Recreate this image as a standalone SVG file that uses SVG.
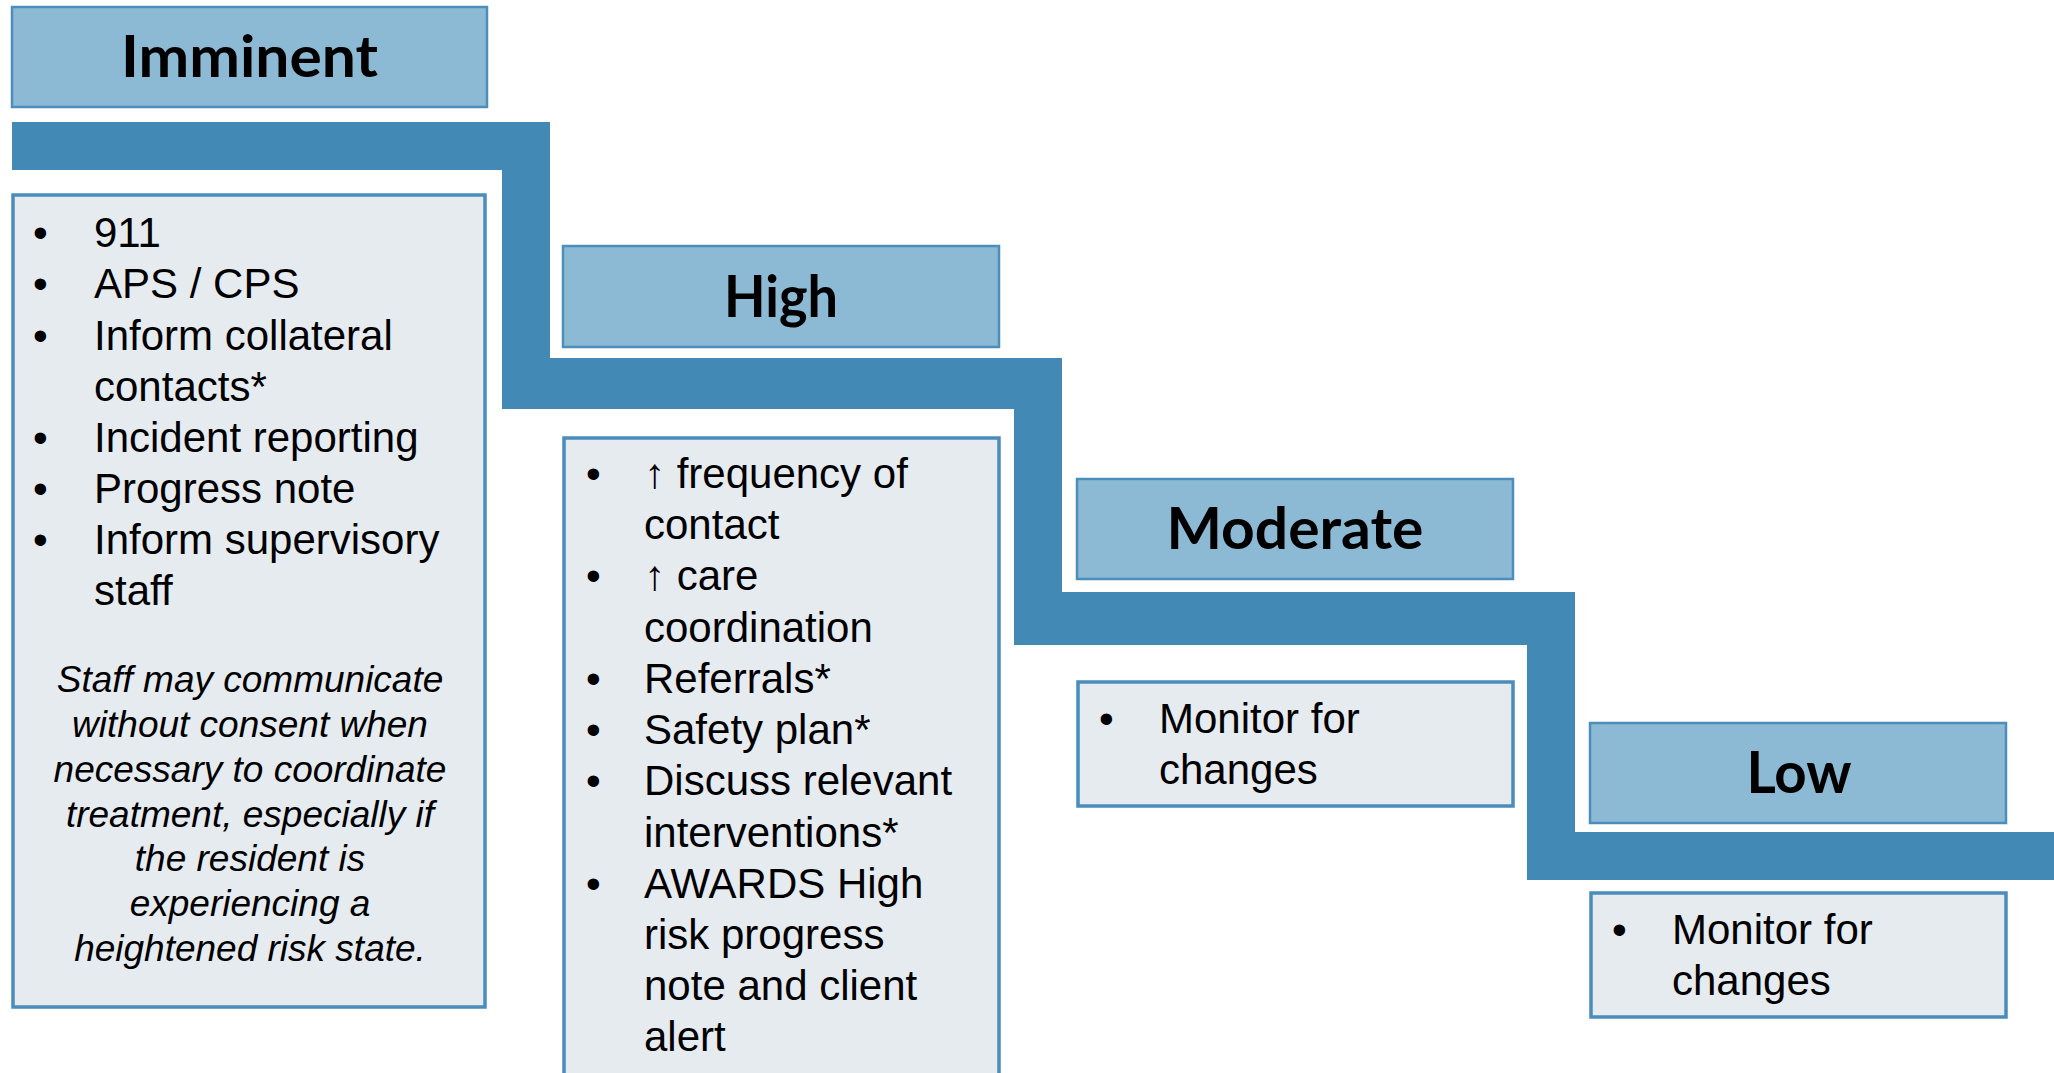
<svg xmlns="http://www.w3.org/2000/svg" width="2054" height="1073" viewBox="0 0 2054 1073">
  <style>
    .hdr { fill: #8CBAD5; stroke: #4B8EBB; stroke-width: 2.5; }
    .body { fill: #E6EBF0; stroke: #4A8DBC; stroke-width: 3.5; }
    .step { fill: #428AB5; }
    .title { font-family: Lato, "Open Sans", sans-serif; font-weight: 700; font-size: 58px; fill: #000; text-anchor: middle; }
    .item { font-family: "Liberation Sans", Arial, sans-serif; font-size: 42px; fill: #000; }
    .note { font-family: "Liberation Sans", Arial, sans-serif; font-style: italic; font-size: 37px; fill: #000; text-anchor: middle; }
  </style>
  <rect width="2054" height="1073" fill="#FFFFFF"/>

  <!-- staircase band -->
  <g id="connectors">
    <polygon class="step" points="12,122 550,122 550,358 1062,358 1062,592 1575,592 1575,832 2054,832 2054,880 1527,880 1527,645 1014,645 1014,409 502,409 502,170 12,170"/>
  </g>

  <g id="imminent">
    <rect class="hdr" x="12" y="7" width="475" height="100"/>
    <text class="title" x="249.5" y="77" textLength="257" lengthAdjust="spacingAndGlyphs">Imminent</text>
  </g>
  <g id="imminent-actions">
    <rect class="body" x="13" y="195" width="472" height="812"/>
    <g class="item">
      <text x="33" y="247">•</text><text x="94" y="247">911</text>
      <text x="33" y="298">•</text><text x="94" y="298">APS / CPS</text>
      <text x="33" y="350">•</text><text x="94" y="350">Inform collateral</text>
      <text x="94" y="401">contacts*</text>
      <text x="33" y="452">•</text><text x="94" y="452">Incident reporting</text>
      <text x="33" y="503">•</text><text x="94" y="503">Progress note</text>
      <text x="33" y="554">•</text><text x="94" y="554">Inform supervisory</text>
      <text x="94" y="605">staff</text>
    </g>
    <g class="note">
      <text x="250" y="692">Staff may communicate</text>
      <text x="250" y="737">without consent when</text>
      <text x="250" y="782">necessary to coordinate</text>
      <text x="250" y="827">treatment, especially if</text>
      <text x="250" y="871">the resident is</text>
      <text x="250" y="916">experiencing a</text>
      <text x="250" y="961">heightened risk state.</text>
    </g>
  </g>

  <g id="high">
    <rect class="hdr" x="563" y="246" width="436" height="101"/>
    <text class="title" x="781" y="317" textLength="114" lengthAdjust="spacingAndGlyphs">High</text>
  </g>
  <g id="high-actions">
    <rect class="body" x="564" y="438" width="435" height="660"/>
    <g class="item">
      <text x="586" y="488">•</text><text x="644" y="488">↑ frequency of</text>
      <text x="644" y="539">contact</text>
      <text x="586" y="590">•</text><text x="644" y="590">↑ care</text>
      <text x="644" y="642">coordination</text>
      <text x="586" y="693">•</text><text x="644" y="693">Referrals*</text>
      <text x="586" y="744">•</text><text x="644" y="744">Safety plan*</text>
      <text x="586" y="795">•</text><text x="644" y="795">Discuss relevant</text>
      <text x="644" y="847">interventions*</text>
      <text x="586" y="898">•</text><text x="644" y="898">AWARDS High</text>
      <text x="644" y="949">risk progress</text>
      <text x="644" y="1000">note and client</text>
      <text x="644" y="1051">alert</text>
    </g>
  </g>

  <g id="moderate">
    <rect class="hdr" x="1077" y="479" width="436" height="100"/>
    <text class="title" x="1295" y="549" textLength="257" lengthAdjust="spacingAndGlyphs">Moderate</text>
  </g>
  <g id="moderate-actions">
    <rect class="body" x="1078" y="682" width="435" height="124"/>
    <g class="item">
      <text x="1099" y="733">•</text><text x="1159" y="733">Monitor for</text>
      <text x="1159" y="784">changes</text>
    </g>
  </g>

  <g id="low">
    <rect class="hdr" x="1590" y="723" width="416" height="100"/>
    <text class="title" x="1799" y="793" textLength="105" lengthAdjust="spacingAndGlyphs">Low</text>
  </g>
  <g id="low-actions">
    <rect class="body" x="1591" y="893" width="415" height="124"/>
    <g class="item">
      <text x="1612" y="944">•</text><text x="1672" y="944">Monitor for</text>
      <text x="1672" y="995">changes</text>
    </g>
  </g>
</svg>
